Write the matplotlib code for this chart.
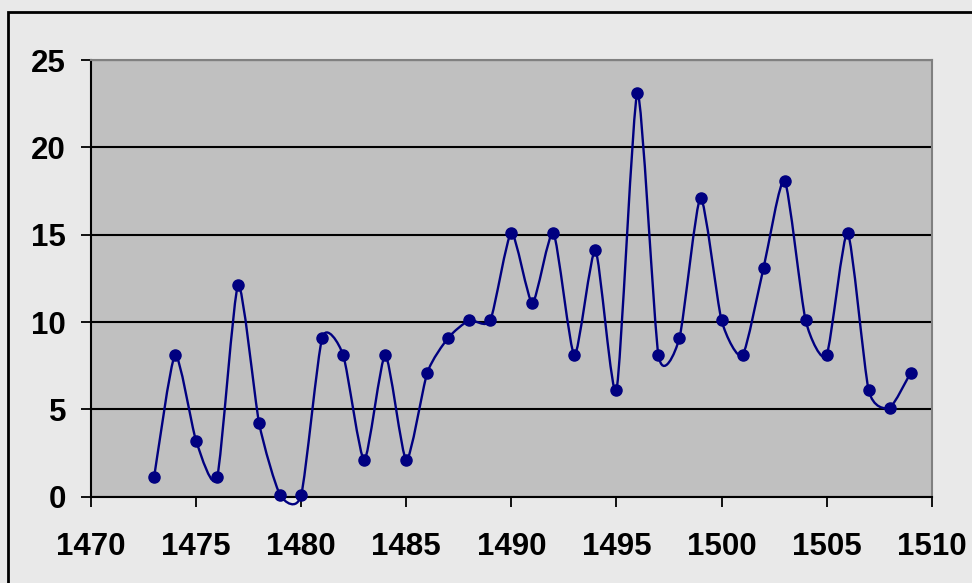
import numpy as np
import matplotlib
matplotlib.use("Agg")
import matplotlib.pyplot as plt
from matplotlib.path import Path
from matplotlib.patches import PathPatch, Rectangle

years = [1473, 1474, 1475, 1476, 1477, 1478, 1479, 1480, 1481, 1482, 1483, 1484,
         1485, 1486, 1487, 1488, 1489, 1490, 1491, 1492, 1493, 1494, 1495, 1496,
         1497, 1498, 1499, 1500, 1501, 1502, 1503, 1504, 1505, 1506, 1507, 1508, 1509]
values = [1.1, 8.1, 3.2, 1.1, 12.1, 4.2, 0.1, 0.1, 9.1, 8.1, 2.1, 8.1,
          2.1, 7.1, 9.1, 10.1, 10.1, 15.1, 11.1, 15.1, 8.1, 14.1, 6.1, 23.1,
          8.1, 9.1, 17.1, 10.1, 8.1, 13.1, 18.1, 10.1, 8.1, 15.1, 6.1, 5.1, 7.1]
x_ticks = [1470, 1475, 1480, 1485, 1490, 1495, 1500, 1505, 1510]
y_ticks = [0, 5, 10, 15, 20, 25]

NAVY = "#000080"

fig = plt.figure(figsize=(9.72, 5.83), dpi=100)
fig.patch.set_facecolor("#E9E9E9")
# outer chart border
fig.patches.append(Rectangle((8 / 972, -0.1), 1.2, (583 - 12) / 583 + 0.1,
                             transform=fig.transFigure, fill=False,
                             edgecolor="black", linewidth=2, zorder=0))

ax = fig.add_axes([91 / 972, (583 - 496.7) / 583, (931.7 - 91) / 972, (496.7 - 60) / 583])
ax.set_facecolor("#C0C0C0")
ax.set_xlim(1470, 1510)
ax.set_ylim(0, 25)

# smoothed line (Bezier smoothing similar to Excel)
x = np.array(years, dtype=float)
y = np.array(values, dtype=float)
pts = np.column_stack([x, y])
verts = [tuple(pts[0])]
codes = [Path.MOVETO]
n = len(pts)
k = 1.0 / 9.5
for i in range(n - 1):
    p0 = pts[i - 1] if i > 0 else pts[i]
    p1 = pts[i]
    p2 = pts[i + 1]
    p3 = pts[i + 2] if i + 2 < n else pts[i + 1]
    c1 = p1 + (p2 - p0) * k
    c2 = p2 - (p3 - p1) * k
    verts += [tuple(c1), tuple(c2), tuple(p2)]
    codes += [Path.CURVE4] * 3
ax.add_patch(PathPatch(Path(verts, codes), facecolor="none", edgecolor=NAVY,
                       linewidth=1.7, zorder=3, clip_on=False))
ax.plot(years, values, linestyle="none", marker="o", markersize=8,
        color=NAVY, zorder=4, clip_on=False)

ax.set_yticks(y_ticks)
ax.set_xticks(x_ticks)
ax.yaxis.grid(True, color="black", linewidth=1.5, zorder=1)
ax.set_axisbelow(True)
for s in ["top", "right"]:
    ax.spines[s].set_color("#808080")
    ax.spines[s].set_linewidth(1.5)
for s in ["left", "bottom"]:
    ax.spines[s].set_color("black")
    ax.spines[s].set_linewidth(1.5)

ax.tick_params(axis="both", direction="out", length=7.5, width=1.3, color="black",
               labelsize=22.5)
ax.tick_params(axis="y", pad=10.5)
ax.tick_params(axis="x", pad=18)
for lab in ax.get_xticklabels() + ax.get_yticklabels():
    lab.set_fontfamily(["Liberation Sans", "DejaVu Sans"])
    lab.set_fontweight("bold")

fig.savefig("out.png", dpi=100, facecolor=fig.get_facecolor())
